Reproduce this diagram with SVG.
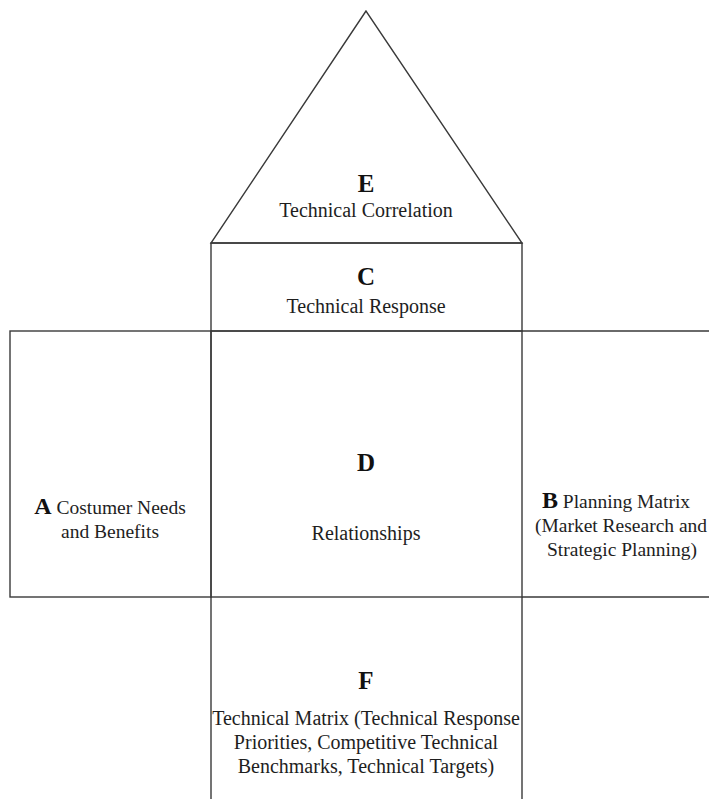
<svg xmlns="http://www.w3.org/2000/svg" width="709" height="799" viewBox="0 0 709 799">
<style>
.ln{fill:none;stroke:#3a3a3a;stroke-width:1.4}
.t{font-family:"Liberation Serif","Times New Roman",serif;font-size:20px;fill:#1e1e1e;text-anchor:middle}
.s{font-family:"Liberation Serif","Times New Roman",serif;font-size:19.5px;fill:#1e1e1e;text-anchor:middle}
.L{font-family:"Liberation Serif","Times New Roman",serif;font-size:25px;font-weight:bold;fill:#111;text-anchor:middle}
.Li{font-size:24px;font-weight:bold;fill:#111}
</style>
<rect width="709" height="799" fill="#ffffff"/>
<g id="E">
<polygon class="ln" points="366,11 211,243 522,243"/>
<text class="L" x="366" y="192">E</text>
<text class="t" x="366" y="217">Technical Correlation</text>
</g>
<g id="C">
<rect class="ln" x="211" y="243" width="311" height="88"/>
<text class="L" x="366" y="285">C</text>
<text class="t" x="366" y="313">Technical Response</text>
</g>
<g id="A">
<rect class="ln" x="10" y="331" width="201" height="266"/>
<text class="s" x="110" y="514"><tspan class="Li">A</tspan> Costumer Needs</text>
<text class="s" x="110" y="538">and Benefits</text>
</g>
<g id="D">
<rect class="ln" x="211" y="331" width="311" height="266"/>
<text class="L" x="366" y="471">D</text>
<text class="t" x="366" y="540">Relationships</text>
</g>
<g id="B">
<path class="ln" d="M522,331 H712 M522,597 H712"/>
<text class="s" x="616" y="508"><tspan class="Li">B</tspan> Planning Matrix</text>
<text class="s" x="621" y="532">(Market Research and</text>
<text class="s" x="622" y="556">Strategic Planning)</text>
</g>
<g id="F">
<path class="ln" d="M211,597 V802 M522,597 V802"/>
<text class="L" x="366" y="689">F</text>
<text class="t" x="366" y="725">Technical Matrix (Technical Response</text>
<text class="t" x="366" y="749">Priorities, Competitive Technical</text>
<text class="t" x="366" y="773">Benchmarks, Technical Targets)</text>
</g>
<g id="connectors"></g>
</svg>
